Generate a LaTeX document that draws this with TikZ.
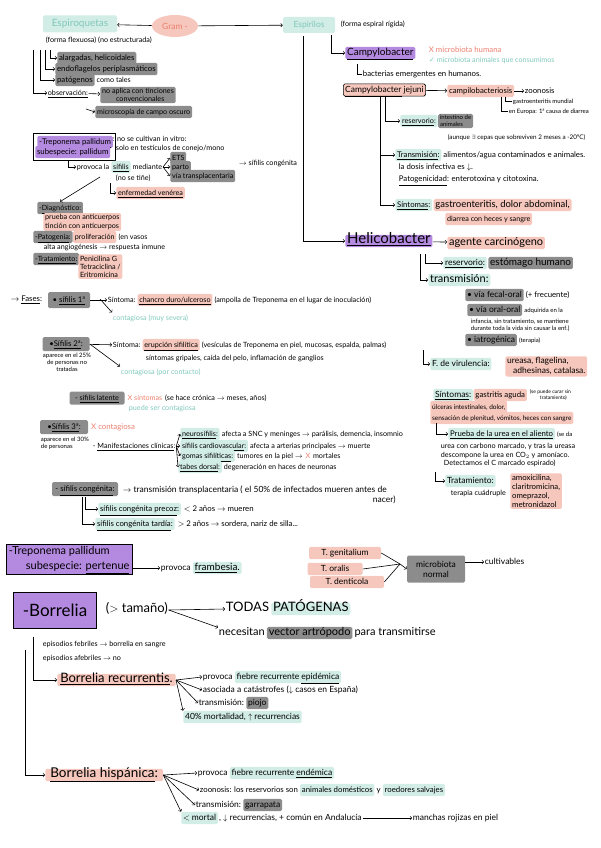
\documentclass[tikz,border=0pt]{standalone}
\usepackage{fontspec}
\setmainfont{Lato}
\newfontfamily\symfont{DejaVu Sans}
\usetikzlibrary{positioning,fit,shapes.geometric,backgrounds}

\definecolor{markgray}{RGB}{140,140,140}
\definecolor{markteal}{RGB}{210,236,230}
\definecolor{marksalmon}{RGB}{246,199,188}
\definecolor{markpurple}{RGB}{180,138,224}
\definecolor{tealink}{RGB}{128,200,186}
\definecolor{salmonink}{RGB}{236,128,110}

\tikzset{
  txt/.style={anchor=west, inner sep=0.6pt, text height=1.5ex, text depth=0.35ex,
    font=\fontsize{7.2}{8.2}\selectfont},
  para/.style={anchor=west, inner sep=0.6pt, align=left, font=\fontsize{7.2}{8.2}\selectfont},
  fsmall/.style={font=\fontsize{6}{7}\selectfont},
  fbig/.style={font=\fontsize{7.8}{9}\selectfont},
  fmid/.style={font=\fontsize{8.5}{10}\selectfont},
  flarge/.style={font=\fontsize{10}{12}\selectfont},
  fhuge/.style={font=\fontsize{15}{17}\selectfont},
  hlbox/.style={rounded corners=1.5pt, inner xsep=1.8pt, inner ysep=1.4pt},
  hlg/.style={txt, hlbox, fill=markgray},
  hlt/.style={txt, hlbox, fill=markteal},
  hls/.style={txt, hlbox, fill=marksalmon},
  hlp/.style={txt, hlbox, fill=markpurple},
  hlgp/.style={para, hlbox, fill=markgray},
  hlsp/.style={para, hlbox, fill=marksalmon},
  framebox/.style={draw, semithick, inner sep=2pt}
}

\begin{document}
\begin{tikzpicture}[x=1pt, y=-1pt, semithick]
  \useasboundingbox (0,0) rectangle (600,848);

  % Gram - : espiroquetas / espirilos
  \node[hlt, flarge, anchor=center, minimum width=74pt, minimum height=17pt, text=tealink] (espiroq) at (80,24) {Espiroquetas};
  \node[ellipse, fill=marksalmon, text=salmonink, fmid, minimum width=46pt, minimum height=22pt, inner sep=0pt] (gram) at (175,26) {Gram -};
  \node[hlt, fmid, anchor=center, minimum width=52pt, minimum height=16pt, text=tealink] (espiril) at (309,25) {Espirilos};
  \node[txt] (rigida) at (340,24) {(forma espiral rígida)};
  \draw[->] (gram) -- (espiroq);
  \draw[->] (gram) -- (espiril);

  % espiroquetas: caracteristicas
  \node[txt] (flex) at (45,40) {(forma flexuosa) (no estructurada)};
  \coordinate (s1) at (50,50);
  \coordinate (s2) at (45,50);
  \coordinate (s3) at (40,50);
  \coordinate (s4) at (33,50);
  \node[hlg, fbig] (alarg) at (57,58) {alargadas, helicoidales};
  \node[hlg, fbig] (endofl) at (55,69) {endoflagelos periplasmáticos};
  \node[hlg, fbig] (patog) at (55,80) {patógenos};
  \node[txt, right=1pt of patog] {como tales};
  \node[txt] (obs) at (47,93) {\underline{observación:}};
  \node[hlgp] (tinc) at (100,95) {no aplica con tinciones\\\hspace{14pt}convencionales};
  \node[hlg] (campo) at (95,112) {microscopía de campo oscuro};
  \coordinate (obs2) at (86,109);
  \draw[->] (s1) |- (alarg.west);
  \draw[->] (s2) |- (endofl.west);
  \draw[->] (s3) |- (patog.west);
  \draw[->] (s4) |- (obs.west);
  \draw[->] (obs) -- (tinc);
  \draw[->] (obs2) -- (campo.west);

  % Treponema pallidum subsp. pallidum
  \node[hlp, fbig] (tpal) at (37,142) {-\underline{Treponema pallidum}};
  \node[hlp, fbig] (tsub) at (35,152) {subespecie: pallidum};
  \node[framebox, fit=(tpal)(tsub)] (tpbox) {};
  \node[txt] (cult1) at (112,139) {: no se cultivan in vitro:};
  \node[txt] (cult2) at (115,148) {solo en testículos de conejo/mono};
  \coordinate (tpstem) at (68,160);
  \node[txt] (provoca) at (76,167) {provoca la};
  \node[hlt, right=1pt of provoca] (sifilis) {\underline{sífilis}};
  \node[txt, right=1pt of sifilis] (mediante) {mediante};
  \node[hlg] (ets) at (170,158) {ETS};
  \node[hlg] (parto) at (170,167) {parto};
  \node[hlg] (transpl) at (170,176) {vía transplacentaria};
  \node[txt] (congen) at (238,163) {$\rightarrow$ sífilis congénita};
  \node[txt] (noti) at (115,178) {(no se tiñe)};
  \coordinate (sifstem) at (110,183);
  \node[hls] (venerea) at (116,193) {\underline{enfermedad venérea}};
  \draw[->] (tpstem) |- (provoca);
  \foreach \v in {ets,parto,transpl}
    \draw[->] (mediante.east) -- (\v.west);
  \draw[->] (sifstem) |- (venerea);

  % diagnostico, patogenia, tratamiento
  \coordinate (diag) at (100,177);
  \node[hlg] (diagn) at (37,208) {-\underline{Diagnóstico}:};
  \draw[->] (diag) -- (diagn.north);
  \node[hlsp] (pruebas) at (43,222) {prueba con anticuerpos\\tinción con anticuerpos};
  \node[hlg] (patogenia) at (33,237) {-\underline{Patogenia}:};
  \node[hls, right=0pt of patogenia] (prolif) {proliferación};
  \node[txt, right=1pt of prolif] {(en vasos};
  \node[txt] (angio) at (43,247) {alta angiogénesis $\rightarrow$ respuesta inmune};
  \node[hlg] (tratam) at (33,259) {-\underline{Tratamiento}:};
  \node[hlsp, anchor=north west] (antib) at (78,254) {Penicilina G\\Tetraciclina /\\Eritromicina};

  % fases de la sifilis
  \node[txt, fbig] (fases) at (10,299) {$\rightarrow$ \underline{Fases}:};
  \node[hlg, fbig, anchor=center, minimum width=42pt, minimum height=16pt] (sif1) at (69,300) {• \underline{sífilis 1ª}};
  \node[txt] (sint1) at (107,300) {Síntoma:};
  \node[hls, right=1pt of sint1] (chancro) {\underline{chancro duro/ulceroso}};
  \node[txt, right=1pt of chancro] {(ampolla de Treponema en el lugar de inoculación)};
  \node[txt, text=tealink] (contag1) at (112,318) {contagiosa (muy severa)};
  \coordinate (fork1) at (100,299);
  \draw[->] (sif1) -- (sint1);
  \draw[->] (fork1) -- (contag1.north west);

  \node[hlg, fbig, anchor=center, minimum width=47pt, minimum height=14pt] (sif2) at (66,344) {•\underline{Sífilis 2ª}:};
  \node[para, fsmall, align=center, anchor=north] (ap25) at (67,352) {aparece en el 25\%\\de personas no\\tratadas};
  \node[txt] (sint2) at (112,345) {Síntoma:};
  \node[hls, right=1pt of sint2] (erup) {\underline{erupción sifilítica}};
  \node[txt, right=1pt of erup] {(vesículas de Treponema en piel, mucosas, espalda, palmas)};
  \node[txt] (gripe) at (145,358) {síntomas gripales, caída del pelo, inflamación de ganglios};
  \node[txt, text=tealink] (contag2) at (120,372) {contagiosa (por contacto)};
  \draw[->] (sif2) -- (sint2);
  \draw[->] (sif2.east) -- (contag2.north west);

  \node[hlg, anchor=center, minimum width=55pt, minimum height=13pt] (latente) at (97,398) {- \underline{sífilis latente}};
  \node[txt, text=salmonink, right=2pt of latente] (xsint) {X síntomas};
  \node[txt, right=1pt of xsint] {(se hace crónica $\rightarrow$ meses, años)};
  \node[txt, text=tealink] (contagl) at (128,408) {puede ser contagiosa};

  \node[hlg, fbig, anchor=center, minimum width=48pt, minimum height=14pt] (sif3) at (64,427) {•\underline{Sífilis 3ª}:};
  \node[txt, fbig, text=salmonink, right=2pt of sif3] {X contagiosa};
  \node[para, fsmall] (ap30) at (40,443) {aparece en el 30\%\\de personas};
  \node[txt] (manif) at (92,446) {- \underline{Manifestaciones clínicas}:};
  \node[hlt] (neuro) at (180,434) {\underline{neurosífilis}:};
  \node[txt, right=1pt of neuro] {afecta a SNC y meninges $\rightarrow$ parálisis, demencia, insomnio};
  \node[hlt] (cardio) at (180,446) {\underline{sífilis cardiovascular}:};
  \node[txt, right=1pt of cardio] {afecta a arterias principales $\rightarrow$ muerte};
  \node[hlt] (gomas) at (180,456) {\underline{gomas sifilíticas}:};
  \node[txt, right=1pt of gomas] (gomas2) {tumores en la piel $\rightarrow$};
  \node[txt, text=salmonink, right=1pt of gomas2] (gomas3) {X};
  \node[txt, right=1pt of gomas3] {mortales};
  \node[hlt] (tabes) at (178,467) {\underline{tabes dorsal}:};
  \node[txt, right=1pt of tabes] {degeneración en haces de neuronas};
  \foreach \m in {neuro,cardio,gomas,tabes}
    \draw[->] (manif.east) -- (\m.west);

  \node[hlg, fbig, anchor=center, minimum width=66pt, minimum height=14pt] (sifcong) at (85,489) {- \underline{sífilis congénita}:};
  \node[txt, fmid] (transpl2) at (122,490) {$\rightarrow$ transmisión transplacentaria ( el 50\% de infectados mueren antes de};
  \node[txt, fmid] at (372,500) {nacer)};
  \coordinate (cstem1) at (85,497);
  \coordinate (cstem2) at (82,497);
  \node[hlt, fbig] (precoz) at (98,509) {\underline{sífilis congénita precoz}:};
  \node[txt, fbig, right=2pt of precoz] {$<$ 2 años $\rightarrow$ mueren};
  \node[hlt, fbig] (tardia) at (95,524) {\underline{sífilis congénita tardía}:};
  \node[txt, fbig, right=2pt of tardia] {$>$ 2 años $\rightarrow$ sordera, nariz de silla...};
  \draw[->] (cstem1) |- (precoz);
  \draw[->] (cstem2) |- (tardia);

  % Treponema pallidum subsp. pertenue
  \node[txt, font=\fontsize{11}{13}\selectfont] (tper1) at (8,552) {-Treponema pallidum};
  \node[txt, font=\fontsize{11}{13}\selectfont] (tper2) at (25,567) {subespecie: \underline{pertenue}};
  \begin{scope}[on background layer]
    \node[framebox, fill=markpurple, fit=(tper1)(tper2)] (tperbox) {};
  \end{scope}
  \node[txt, fmid] (provfr) at (160,568) {provoca};
  \node[hlt, flarge, right=1pt of provfr] (framb) {\underline{frambesia}.};
  \draw[->] (tperbox.east |- provfr.west) -- (provfr.west);

  % treponemas de la microbiota
  \node[hls, fmid, anchor=center, minimum width=72pt] (tgen) at (345,553) {T. genitalium};
  \node[hls, fmid, anchor=center, minimum width=55pt] (tora) at (335,569) {T. oralis};
  \node[hls, fmid, anchor=center, minimum width=74pt] (tden) at (347,582) {T. denticola};
  \node[hlgp, fmid, align=center, anchor=center, minimum width=58pt, minimum height=27pt] (microb) at (436,569) {microbiota\\normal};
  \node[txt, fmid] (cultiv) at (484,562) {cultivables};
  \coordinate (tjoin) at (400,564);
  \foreach \t in {tgen,tora,tden}
    \draw (\t.east) -- (tjoin);
  \draw[->] (tjoin) -- (microb.west);
  \draw[->] (microb.east |- cultiv.west) -- (cultiv.west);

  % Borrelia
  \node[framebox, fill=markpurple, font=\fontsize{17}{19}\selectfont, anchor=center, minimum width=83pt, minimum height=36pt] (borr) at (55,610) {-Borrelia};
  \node[txt, font=\fontsize{13}{15}\selectfont] (tamano) at (105,610) {($>$ tamaño)};
  \node[txt, font=\fontsize{13}{15}\selectfont] (todas) at (225,609) {TODAS};
  \node[hlt, font=\fontsize{13}{15}\selectfont, right=1pt of todas] (patogenas) {PATÓGENAS};
  \node[txt, font=\fontsize{11}{13}\selectfont] (necesitan) at (218,633) {necesitan};
  \node[hlg, font=\fontsize{11}{13}\selectfont, right=1pt of necesitan] (vector) {vector artrópodo};
  \node[txt, font=\fontsize{11}{13}\selectfont, right=1pt of vector] {para transmitirse};
  \draw[->] (tamano.east) -- (todas.west);
  \draw[->] (tamano.east) -- (necesitan.north west);

  \node[txt] (febr) at (42,644) {episodios febriles $\rightarrow$ borrelia en sangre};
  \node[txt] (afebr) at (42,658) {episodios afebriles $\rightarrow$ no};
  \coordinate (bstem1) at (33,637);
  \coordinate (bstem2) at (25,650);
  \node[hls, font=\fontsize{13}{15}\selectfont, inner xsep=3pt] (recurr) at (57,680) {\underline{Borrelia recurrentis}.};
  \node[hls, font=\fontsize{13.5}{15}\selectfont, inner xsep=5pt] (hisp) at (45,775) {\underline{Borrelia hispánica}:};
  \draw[->] (bstem1) |- (recurr);
  \draw[->] (bstem2) |- (hisp);

  % B. recurrentis
  \node[txt, fmid] (prov1) at (202,677) {provoca};
  \node[hlt, fmid, right=1pt of prov1] (fre1) {fiebre recurrente \underline{epidémica}};
  \node[txt, fmid] (asoc) at (202,690) {asociada a catástrofes ($\downarrow$ casos en España)};
  \node[txt, fmid] (transm1) at (198,703) {transmisión:};
  \node[hlg, fmid, right=1pt of transm1] (piojo) {piojo};
  \node[hlt, fmid] (mort1) at (183,717) {40\% mortalidad, $\uparrow$ recurrencias};
  \foreach \d in {prov1,asoc,transm1}
    \draw[->] (recurr.east) -- (\d.west);
  \draw[->] (recurr.east) -- (mort1.north west);

  % B. hispanica
  \node[txt, fmid] (prov2) at (197,773) {provoca};
  \node[hlt, fmid, right=1pt of prov2] (fre2) {fiebre recurrente \underline{endémica}};
  \node[txt, fbig] (zoon) at (199,790) {zoonosis: los reservorios son};
  \node[hlt, fbig, right=1pt of zoon] (domest) {animales domésticos};
  \node[txt, fbig, right=1pt of domest] (yy) {y};
  \node[hlt, fbig, right=1pt of yy] {roedores salvajes};
  \node[txt, fmid] (transm2) at (195,805) {transmisión:};
  \node[hlg, fmid, right=1pt of transm2] (garr) {garrapata};
  \node[hlt, fmid] (mort2) at (181,818) {$<$ mortal};
  \node[txt, fmid, right=0pt of mort2] (mort2b) {, $\downarrow$ recurrencias, + común en Andalucía};
  \node[txt, fmid] (manchas) at (412,818) {manchas rojizas en piel};
  \foreach \d in {prov2,zoon,transm2}
    \draw[->] (hisp.east) -- (\d.west);
  \draw[->] (hisp.east) -- (mort2.north west);
  \draw[->] (mort2b) -- (manchas);

  % Espirilos: Campylobacter
  \coordinate (espstem) at (331,35);
  \node[hlp, flarge] (campy) at (345,53) {\underline{Campylobacter}};
  \draw[->] (espstem) |- (campy);
  \node[txt, fbig, text=salmonink] (xmicro) at (428,50) {X microbiota humana};
  \node[txt, text=tealink] (vmicro) at (428,60) {{\symfont ✓} microbiota animales que consumimos};
  \coordinate (campystem) at (357,64);
  \node[txt, fbig] (emerg) at (362,74) {bacterias emergentes en humanos.};
  \draw (campystem) |- (emerg.west);

  \node[hls, fmid, draw] (cjej) at (343,90) {\underline{Campylobacter} jejuni};
  \node[hls, fbig] (campilo) at (447,91) {campilobacteriosis};
  \node[txt, fbig] (zoono) at (524,91) {zoonosis};
  \draw[->] (cjej) -- (campilo);
  \draw[->] (campilo) -- (zoono);
  \coordinate (gstemA) at (505,97);
  \coordinate (gstemB) at (501,97);
  \node[txt, fsmall] (gastro) at (512,101) {gastroenteritis mundial};
  \node[txt, fsmall] (europa) at (508,111) {en Europa: 1ª causa de diarrea};
  \draw (gstemA) |- (gastro.west);
  \draw (gstemB) |- (europa.west);

  \coordinate (cjstem1) at (385,97);
  \coordinate (cjstem2) at (380,97);
  \node[hlt] (reserv1) at (400,121) {\underline{reservorio}:};
  \node[hlgp, fsmall, right=0pt of reserv1] (intest) {intestino de\\animales};
  \node[txt, font=\fontsize{6.3}{7}\selectfont] (aunque) at (447,137) {(aunque $\exists$ cepas que sobreviven 2 meses a -20ºC)};
  \node[hlt, fbig] (transm3) at (395,155) {\underline{Transmisión}:};
  \node[txt, fbig, right=1pt of transm3] {alimentos/agua contaminados e animales.};
  \node[txt, fbig] (dosis) at (398,167) {la dosis infectiva es $\downarrow$.};
  \node[txt, fbig] (patogen) at (398,179) {\underline{Patogenicidad}: enterotoxina y citotoxina.};
  \node[hlt, fbig] (sint3) at (395,205) {\underline{Síntomas}:};
  \node[hls, font=\fontsize{9.5}{11}\selectfont, right=1pt of sint3] (gastro2) {gastroenteritis, dolor abdominal,};
  \node[hls] (diarr) at (445,219) {diarrea con heces y sangre};
  \draw[->] (cjstem1) |- (reserv1);
  \draw[->] (cjstem2) |- (transm3);
  \draw[->] (cjstem2) |- (sint3);

  % Espirilos: Helicobacter
  \coordinate (espstem2) at (303,36);
  \node[hlp, fhuge] (helico) at (345,241) {\underline{Helicobacter}};
  \draw[->] (espstem2) |- (helico);
  \node[hls, font=\fontsize{11}{13}\selectfont] (carcin) at (447,243) {agente carcinógeno};
  \draw[->] (helico) -- (carcin);
  \coordinate (hstem1) at (425,254);
  \coordinate (hstem2) at (420,254);
  \node[hlt, fmid] (reserv2) at (443,263) {\underline{reservorio}:};
  \node[hlg, flarge, right=1pt of reserv2] (estom) {estómago humano};
  \node[hlt, font=\fontsize{11}{13}\selectfont] (transm4) at (428,280) {transmisión:};
  \draw[->] (hstem1) |- (reserv2);
  \draw[->] (hstem2) |- (transm4);
  \node[hlg, fmid] (fecal) at (465,295) {• vía fecal-oral};
  \node[txt, fbig, right=1pt of fecal] {(+ frecuente)};
  \node[hlg, fmid] (oral) at (467,310) {• vía oral-oral};
  \node[txt, fsmall, right=1pt of oral] {adquirida en la};
  \node[para, fsmall] (infancia) at (470,325) {infancia, sin tratamiento, se mantiene\\durante toda la vida sin causar la enf.)};
  \node[hlg, fmid] (iatro) at (465,340) {• iatrogénica};
  \node[txt, fsmall, right=1pt of iatro] {(terapia)};
  \coordinate (hstem3) at (423,350);
  \node[hlt, fmid] (fvir) at (430,364) {F. de virulencia:};
  \node[hlsp, fmid, anchor=north west] (ureasa) at (505,356) {ureasa, flagelina,\\\hspace{6pt}adhesinas, catalasa.};
  \draw[->] (hstem3) |- (fvir);

  \node[hlt, fmid] (sint4) at (433,395) {\underline{Síntomas}:};
  \node[hls, fbig, right=0pt of sint4] (gastrit) {gastritis aguda};
  \node[para, font=\fontsize{5}{6}\selectfont, anchor=north west] (curar) at ([xshift=2pt]gastrit.north east) {(se puede curar sin\\\hspace{10pt}tratamiento)};
  \node[hls, font=\fontsize{6.5}{7.5}\selectfont] (ulcer) at (430,407) {úlceras intestinales, dolor,};
  \node[hls, font=\fontsize{6.5}{7.5}\selectfont] (plenit) at (430,418) {sensación de plenitud, vómitos, heces con sangre};
  \coordinate (hstem4) at (436,423);
  \node[hlt, fbig] (urea) at (448,434) {\underline{Prueba de la urea en el aliento}};
  \node[txt, fsmall, right=1pt of urea] {(se da};
  \node[para] (urea2) at (440,455) {urea con carbono marcado, y tras la ureasa\\descompone la urea en CO$_2$ y amoníaco.\\\hspace{3pt}Detectamos el C marcado espirado)};
  \draw[->] (hstem4) |- (urea);
  \coordinate (hstem5) at (435,472);
  \node[hlt, fmid] (tratam2) at (445,481) {Tratamiento:};
  \node[hlsp, fbig, anchor=north west] (antib2) at (510,473) {amoxicilina,\\claritromicina,\\omeprazol,\\metronidazol};
  \node[txt] (cuadr) at (450,493) {terapia cuádruple};
  \draw[->] (hstem5) |- (tratam2);
\end{tikzpicture}
\end{document}
